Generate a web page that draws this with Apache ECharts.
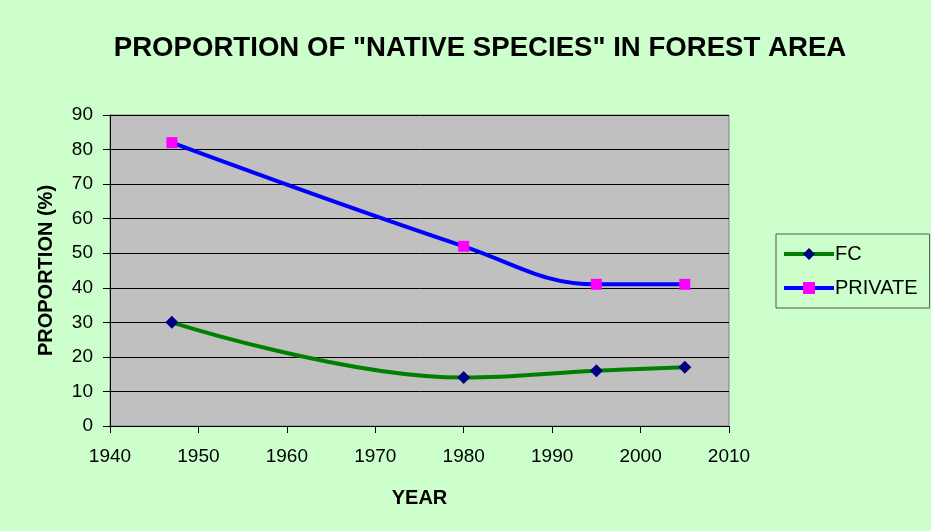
<!DOCTYPE html>
<html>
<head>
<meta charset="utf-8">
<script src="https://cdn.jsdelivr.net/npm/echarts@6/dist/echarts.min.js"></script>
<style>
  html, body { margin: 0; padding: 0; background: #CCFFCC; }
  #chart { width: 931px; height: 531px; }
</style>
</head>
<body>
<div id="chart"></div>
<script>
// data
var years = [1947, 1980, 1995, 2005];
var fcValues = [30, 14, 16, 17];
var privateValues = [82, 52, 41, 41];

function pairs(xs, ys) {
  return xs.map(function (x, i) { return [x, ys[i]]; });
}

var chart = echarts.init(document.getElementById('chart'));
chart.setOption({
  backgroundColor: '#CCFFCC',
  textStyle: { fontFamily: 'Liberation Sans, Arial, sans-serif' },
  title: {
    text: 'PROPORTION OF "NATIVE SPECIES" IN FOREST AREA',
    left: 475,
    textAlign: 'center',
    top: 29,
    textStyle: { fontSize: 27.6, fontWeight: 'bold', color: '#000' }
  },
  legend: {
    orient: 'vertical',
    left: 776,
    top: 234,
    padding: [10, 12, 10, 6],
    itemGap: 14,
    itemWidth: 50,
    itemHeight: 15,
    borderColor: '#555',
    borderWidth: 1,
    backgroundColor: '#CCFFCC',
    lineStyle: { width: 4 },
    textStyle: { fontSize: 20, color: '#000', padding: [0, 0, 0, -4] },
    data: ['FC', 'PRIVATE']
  },
  grid: {
    left: 110,
    right: 202,
    top: 115,
    bottom: 105,
    show: true,
    backgroundColor: '#C0C0C0',
    borderColor: '#808080',
    borderWidth: 1
  },
  xAxis: {
    type: 'value',
    min: 1940,
    max: 2010,
    interval: 10,
    name: 'YEAR',
    nameLocation: 'middle',
    nameGap: 62,
    nameTextStyle: { fontSize: 20, fontWeight: 'bold', color: '#000' },
    axisLine: { lineStyle: { color: '#000' } },
    axisTick: { show: true, length: 7, lineStyle: { color: '#000' } },
    axisLabel: { fontSize: 19, color: '#000', margin: 21, formatter: function (v) { return String(v); } },
    splitLine: { show: false }
  },
  yAxis: {
    type: 'value',
    min: 0,
    max: 90,
    interval: 10,
    name: 'PROPORTION (%)',
    nameLocation: 'middle',
    nameGap: 54,
    nameTextStyle: { fontSize: 20, fontWeight: 'bold', color: '#000' },
    axisLine: { show: true, lineStyle: { color: '#000' } },
    axisTick: { show: true, length: 7, lineStyle: { color: '#000' } },
    axisLabel: { fontSize: 19, color: '#000', margin: 17 },
    splitLine: { show: true, lineStyle: { color: '#000', width: 1 } }
  },
  series: [
    {
      name: 'FC',
      type: 'line',
      smooth: 0.4,
      data: pairs(years, fcValues),
      symbol: 'diamond',
      symbolSize: 13,
      lineStyle: { color: '#008000', width: 4 },
      itemStyle: { color: '#000080', borderWidth: 0 }
    },
    {
      name: 'PRIVATE',
      type: 'line',
      smooth: 0.4,
      data: pairs(years, privateValues),
      symbol: 'rect',
      symbolSize: 11,
      lineStyle: { color: '#0000FF', width: 4 },
      itemStyle: { color: '#FF00FF', borderWidth: 0 }
    }
  ]
});
</script>
</body>
</html>
